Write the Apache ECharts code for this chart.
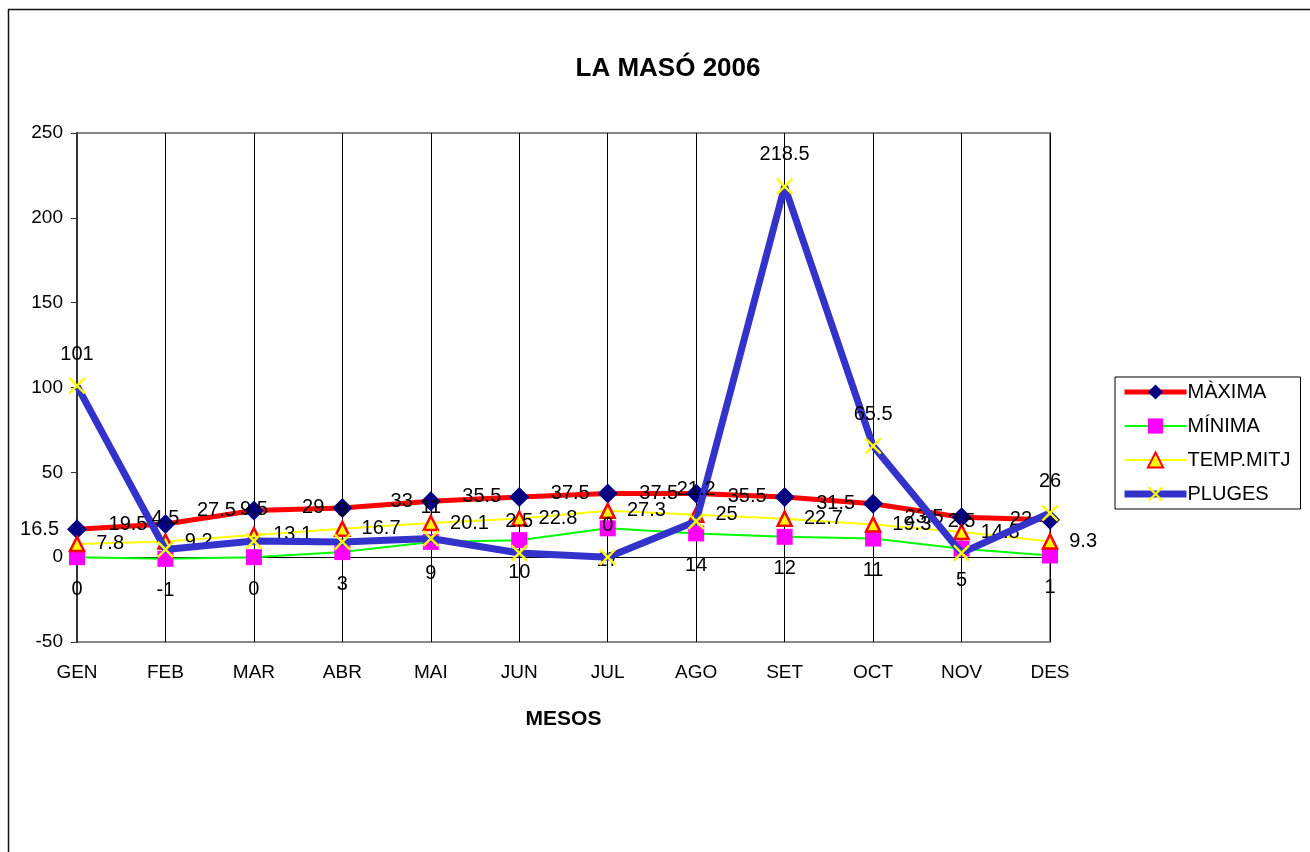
<!DOCTYPE html>
<html>
<head>
<meta charset="utf-8">
<script src="https://cdn.jsdelivr.net/npm/echarts@6/dist/echarts.min.js"></script>
<style>
  html, body { margin: 0; padding: 0; background: #fff; }
  #chart { width: 1310px; height: 852px; }
</style>
</head>
<body>
<div id="chart"></div>
<script>
const months = ["GEN", "FEB", "MAR", "ABR", "MAI", "JUN", "JUL", "AGO", "SET", "OCT", "NOV", "DES"];
const maxima = [16.5, 19.5, 27.5, 29, 33, 35.5, 37.5, 37.5, 35.5, 31.5, 23.5, 22];
const minima = [0, -1, 0, 3, 9, 10, 17, 14, 12, 11, 5, 1];
const tempMitj = [7.8, 9.2, 13.1, 16.7, 20.1, 22.8, 27.3, 25, 22.7, 19.3, 14.8, 9.3];
const pluges = [101, 4.5, 9.5, 9, 11, 2.5, 0, 21.2, 218.5, 65.5, 2.5, 26];

const FONT = "Liberation Sans, Arial, sans-serif";
const xMark = "path://M0,1L1,0L5,4L9,0L10,1L6,5L10,9L9,10L5,6L1,10L0,9L4,5Z";

const chart = echarts.init(document.getElementById("chart"));

const lbl = (pos, dist) => ({ show: true, position: pos, distance: dist, color: "#000", fontSize: 20, fontFamily: FONT });

chart.setOption({
  animation: false,
  backgroundColor: "#fff",
  textStyle: { fontFamily: FONT },
  title: {
    text: "LA MASÓ 2006",
    left: 663, top: 51, textAlign: "center",
    textStyle: { fontSize: 26, fontWeight: "bold", color: "#000", fontFamily: FONT }
  },
  graphic: [{
    type: "rect", left: 6, top: 7, silent: true,
    shape: { width: 1320, height: 860 },
    style: { fill: "none", stroke: "#111", lineWidth: 1.5 }
  }],
  grid: {
    left: 77, top: 133, right: 260, bottom: 210,
    show: true, borderColor: "#888", borderWidth: 2, backgroundColor: "transparent"
  },
  legend: {
    orient: "vertical", left: 1115, top: 377,
    padding: [5, 10, 5, 6], itemGap: 14, itemWidth: 62, itemHeight: 19,
    backgroundColor: "#fff", borderColor: "#000", borderWidth: 1, borderRadius: 0,
    textStyle: { fontSize: 20, color: "#000", fontFamily: FONT, padding: [0, 0, 0, -4] },
    data: [
      { name: "MÀXIMA", lineStyle: { width: 5 } },
      { name: "MÍNIMA", lineStyle: { width: 2 } },
      { name: "TEMP.MITJ", lineStyle: { width: 2 } },
      { name: "PLUGES", lineStyle: { width: 7 } }
    ]
  },
  xAxis: [{
    type: "category", data: months, boundaryGap: false,
    axisLine: { show: true, onZero: true, lineStyle: { color: "#000", width: 1 } },
    axisTick: { show: false }, axisLabel: { show: false },
    splitLine: { show: true, lineStyle: { color: "#000", width: 1 } }
  }, {
    type: "category", data: months, boundaryGap: false, position: "bottom",
    axisLine: { show: false, onZero: false }, axisTick: { show: false },
    axisLabel: { show: true, margin: 21, fontSize: 19, color: "#000", fontFamily: FONT },
    name: "MESOS", nameLocation: "middle", nameGap: 67,
    nameTextStyle: { fontSize: 21, fontWeight: "bold", color: "#000", fontFamily: FONT }
  }],
  yAxis: {
    type: "value", min: -50, max: 250, interval: 50,
    axisLine: { show: true, lineStyle: { color: "#333", width: 2 } },
    axisTick: { show: true, length: 6, lineStyle: { color: "#333" } },
    axisLabel: { fontSize: 19, color: "#000", margin: 14, fontFamily: FONT },
    splitLine: { show: false }
  },
  series: [{
    name: "MÀXIMA", type: "line", data: maxima,
    lineStyle: { color: "#ff0000", width: 5 },
    itemStyle: { color: "#000080" },
    symbol: "diamond", symbolSize: 20,
    label: lbl("left", 8), z: 3
  }, {
    name: "MÍNIMA", type: "line", data: minima,
    lineStyle: { color: "#00ff00", width: 2 },
    itemStyle: { color: "#ff00ff" },
    symbol: "rect", symbolSize: 16,
    label: lbl("bottom", 14), z: 2
  }, {
    name: "TEMP.MITJ", type: "line", data: tempMitj,
    lineStyle: { color: "#ffff00", width: 2 },
    itemStyle: { color: "#ffff00", borderColor: "#ff0000", borderWidth: 2.5 },
    symbol: "triangle", symbolSize: 14,
    label: lbl("right", 11), z: 4
  }, {
    name: "PLUGES", type: "line", data: pluges,
    lineStyle: { color: "#3333cc", width: 7 },
    itemStyle: { color: "#ffff00" },
    symbol: xMark, symbolSize: 17,
    label: lbl("top", 13), z: 5
  }]
});
</script>
</body>
</html>
